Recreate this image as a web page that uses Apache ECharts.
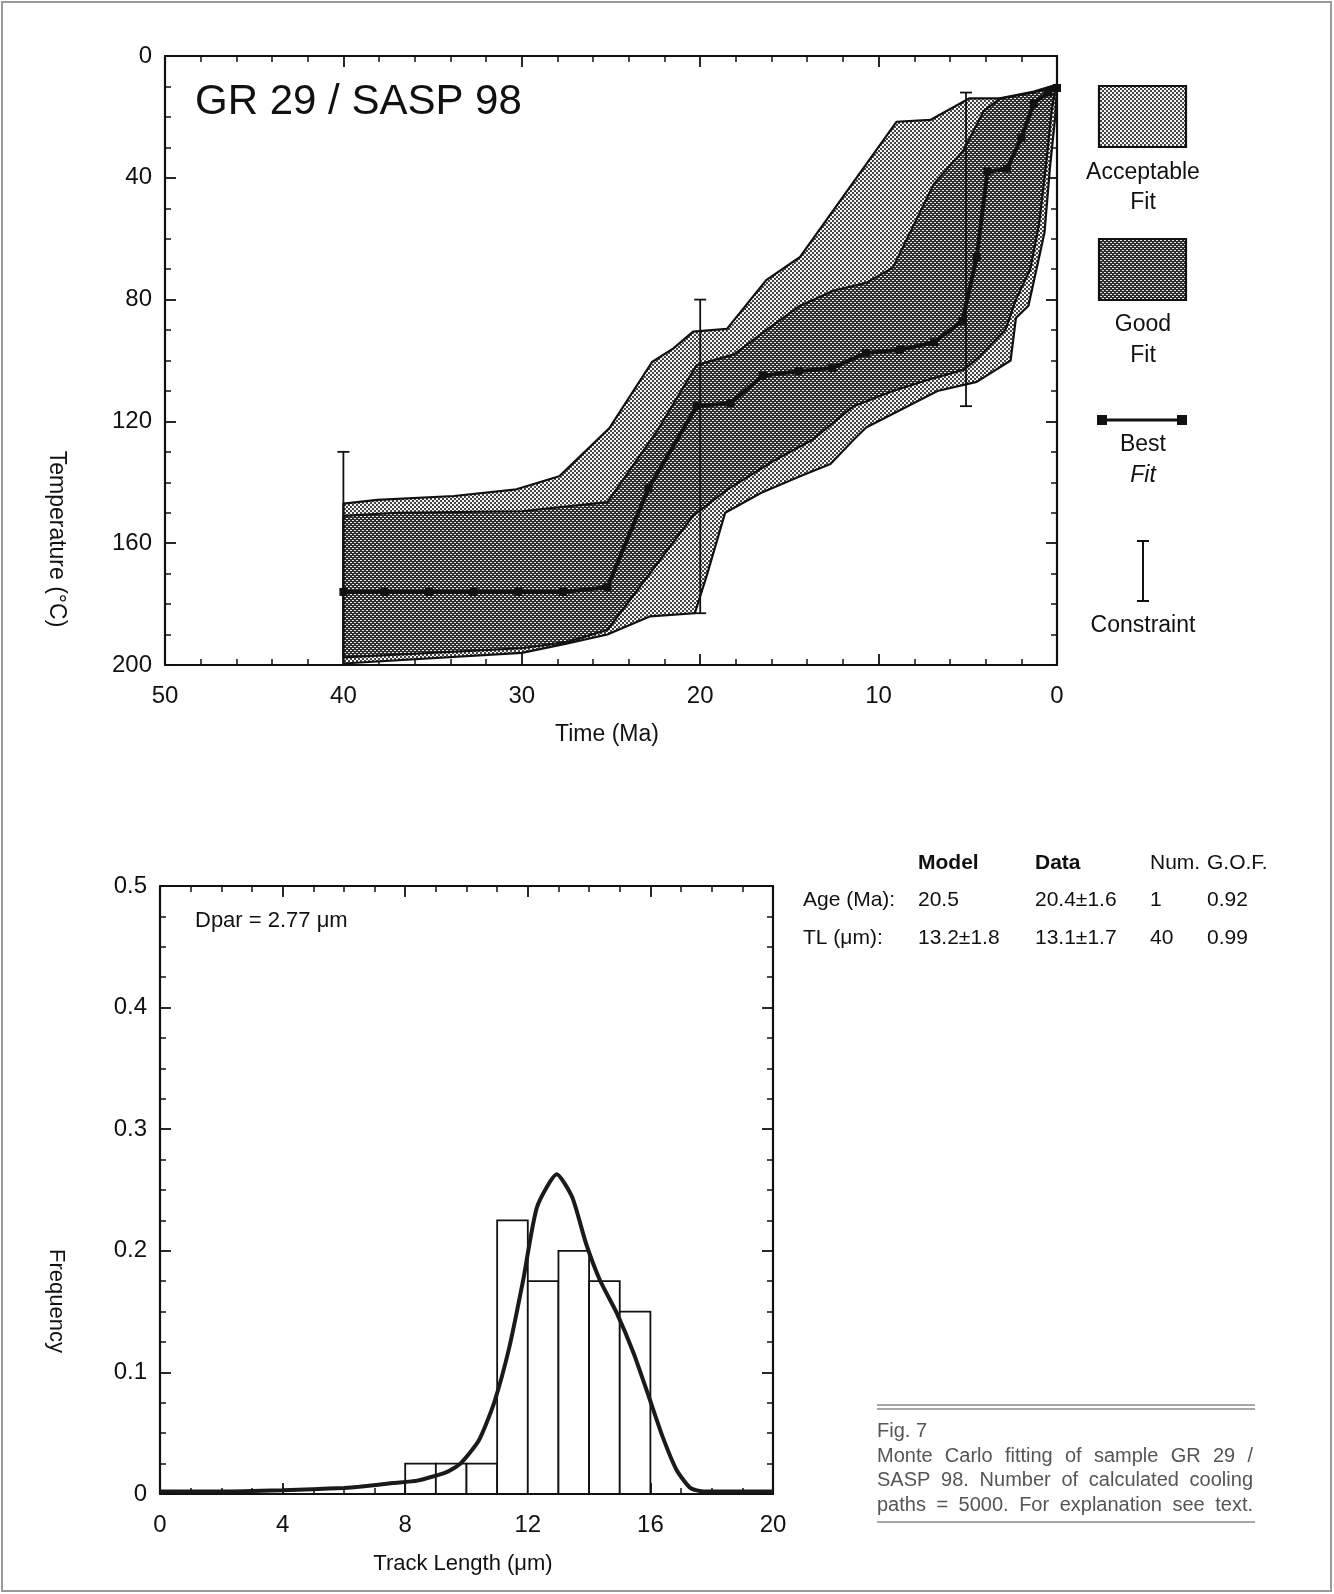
<!DOCTYPE html>
<html>
<head>
<meta charset="utf-8">
<title>GR 29 / SASP 98 - Monte Carlo fitting</title>
<script src="https://cdn.jsdelivr.net/npm/echarts@6.0.0/dist/echarts.min.js"></script>
<style>
  html, body { margin: 0; padding: 0; background: #fff; }
  #chart { width: 1334px; height: 1594px; }
</style>
</head>
<body>
<div id="chart"></div>
<script>
// ---- top panel: time-temperature paths, [age (Ma), temperature (°C)] ----
// acceptable fit envelope, cool side then hot side
const acceptTop = [
  [40, 147], [38.1, 145.8], [33.8, 144.5], [30.3, 142.3], [27.9, 138], [25.1, 122.3],
  [22.7, 100.5], [21.5, 96], [20.4, 90.5], [18.5, 89.6], [16.3, 73.6], [14.4, 66],
  [9.0, 21.6], [7.1, 21], [4.9, 13.9], [3.2, 13.9], [1.3, 11.7], [0.1, 9.5], [0, 9.5]
]
const acceptBottom = [
  [40, 199.5], [30, 196], [27.5, 193], [25.2, 190], [22.8, 184], [20.3, 183],
  [19.6, 170], [18.6, 150], [16.6, 143.5], [14.4, 138], [12.7, 134], [11.4, 126],
  [10.7, 122], [6.7, 110], [4.5, 107], [2.6, 100], [2.3, 86], [1.6, 82], [1.0, 66],
  [0.7, 58], [0.4, 37], [0.1, 20], [0, 10]
]
// good fit envelope
const goodTop = [
  [40, 151], [37, 150], [30, 149.5], [25.2, 146.5], [22.4, 123], [20.2, 101.5],
  [18.1, 98], [16.3, 90], [14.4, 82], [12.5, 77], [10.7, 74.5], [9.2, 69.5],
  [6.9, 42], [5.25, 31], [4.1, 18], [3.2, 14], [1.3, 12], [0.1, 10]
]
const goodBottom = [
  [40, 197.5], [30, 194.5], [27.5, 192.5], [25.2, 188.5], [20.4, 151], [18.5, 142.5],
  [15.9, 133], [13.7, 126], [11.4, 115], [9.2, 110], [7.3, 106.5], [5.2, 103],
  [4.4, 99], [2.9, 90], [2.3, 80], [1.5, 70], [1.0, 55], [0.6, 35], [0.3, 18], [0.1, 11]
]
// best fit path
const bestFit = [
  [40, 176], [37.7, 176], [35.2, 176], [32.7, 176], [30.2, 176], [27.7, 176],
  [25.2, 174.5], [22.9, 142], [20.2, 115], [18.3, 114], [16.5, 105], [14.5, 103.5],
  [12.6, 102.5], [10.7, 97.5], [8.8, 96.5], [6.9, 94], [5.3, 87], [4.5, 66],
  [3.9, 38], [2.8, 37], [2.0, 27], [1.3, 15.5], [0.5, 12], [0, 10.5]
]
// constraint boxes
const constraintAge = [40, 20, 5.1]
const constraintMin = [130, 80, 12]
const constraintMax = [200, 183, 115]

// ---- bottom panel: track length distribution ----
const binStart = [8, 9, 10, 11, 12, 13, 14, 15]
const binFreq = [0.025, 0.025, 0.025, 0.225, 0.175, 0.2, 0.175, 0.15]
const binWidth = 1
const pdfLength = [0, 2, 4, 5, 6, 6.5, 7.6, 8.4, 9.35, 9.8, 10.4, 10.9, 11.4, 11.85, 12.3,
  12.95, 13.45, 13.9, 14.35, 14.9, 15.45, 15.95, 16.4, 16.85, 17.3, 17.75, 20]
const pdfFreq = [0.002, 0.002, 0.003, 0.004, 0.005, 0.006, 0.009, 0.011, 0.018, 0.025, 0.044,
  0.075, 0.121, 0.176, 0.236, 0.263, 0.244, 0.206, 0.176, 0.149, 0.116, 0.08, 0.047, 0.02,
  0.005, 0.002, 0.002]

// ---- table / caption text ----
const tableHead = ['Model', 'Data', 'Num.', 'G.O.F.']
const tableRows = [
  ['Age (Ma):', '20.5', '20.4±1.6', '1', '0.92'],
  ['TL (μm):', '13.2±1.8', '13.1±1.7', '40', '0.99']
]
const captionLines = [
  'Monte Carlo fitting of sample GR 29 /',
  'SASP 98. Number of calculated cooling',
  'paths = 5000. For explanation see text.'
]

const FONT = '"Liberation Sans", Arial, Helvetica, sans-serif'
const INK = '#111111'

// stipple patterns for the envelopes
function makeTile(bg, dot, cells) {
  const c = document.createElement('canvas')
  c.width = 4
  c.height = 4
  const ctx = c.getContext('2d')
  ctx.fillStyle = bg
  ctx.fillRect(0, 0, 4, 4)
  ctx.fillStyle = dot
  cells.forEach(([x, y, w, h]) => ctx.fillRect(x, y, w, h))
  return { image: c, repeat: 'repeat' }
}
const acceptFill = makeTile('#f4f4f4', '#444444', [[0, 0, 2, 2], [2, 2, 2, 2]])
const goodFill = makeTile('#2e2e2e', '#e8e8e8', [[0, 0, 2, 1], [2, 2, 2, 1]])

const acceptPoly = acceptTop.concat(acceptBottom.slice().reverse())
const goodPoly = goodTop.concat(goodBottom.slice().reverse())

function polygonSeries(points, fill, z) {
  return {
    type: 'custom',
    xAxisIndex: 0,
    yAxisIndex: 0,
    z: z,
    silent: true,
    data: [0],
    renderItem: (params, api) => ({
      type: 'polygon',
      shape: { points: points.map(p => api.coord(p)) },
      style: { fill: fill, stroke: INK, lineWidth: 2.2, lineJoin: 'round' }
    })
  }
}

function axisX(grid, pos, min, max, interval, split, showLabel, inverse) {
  return {
    type: 'value',
    gridIndex: grid,
    position: pos,
    min: min,
    max: max,
    interval: interval,
    inverse: inverse,
    axisLine: { show: true, onZero: false, lineStyle: { color: INK, width: 2.2 } },
    axisTick: { show: true, inside: true, length: 11, lineStyle: { color: INK, width: 1.8 } },
    minorTick: { show: true, splitNumber: split, length: 6, lineStyle: { color: INK, width: 1.5 } },
    axisLabel: { show: showLabel, fontSize: 24, color: INK, fontFamily: FONT, margin: 19 },
    splitLine: { show: false },
    minorSplitLine: { show: false }
  }
}

function axisY(grid, pos, min, max, interval, split, showLabel, inverse, formatter) {
  return {
    type: 'value',
    gridIndex: grid,
    position: pos,
    min: min,
    max: max,
    interval: interval,
    inverse: inverse,
    axisLine: { show: true, onZero: false, lineStyle: { color: INK, width: 2.2 } },
    axisTick: { show: true, inside: true, length: 11, lineStyle: { color: INK, width: 1.8 } },
    minorTick: { show: true, splitNumber: split, length: 6, lineStyle: { color: INK, width: 1.5 } },
    axisLabel: { show: showLabel, fontSize: 24, color: INK, fontFamily: FONT, margin: 13, formatter: formatter },
    splitLine: { show: false },
    minorSplitLine: { show: false }
  }
}

// justified caption lines, words spread across the column
const measure = document.createElement('canvas').getContext('2d')
function justify(line, x0, x1, y, font, fill) {
  const words = line.split(' ')
  measure.font = font
  const widths = words.map(w => measure.measureText(w).width)
  const total = widths.reduce((a, b) => a + b, 0)
  const gap = words.length > 1 ? (x1 - x0 - total) / (words.length - 1) : 0
  let x = x0
  return words.map((w, i) => {
    const el = { type: 'text', x: x, y: y, style: { text: w, font: font, fill: fill, textVerticalAlign: 'middle' } }
    x += widths[i] + gap
    return el
  })
}

function label(text, x, y, size, opts) {
  const o = opts || {}
  return {
    type: 'text',
    x: x,
    y: y,
    rotation: o.rotation || 0,
    style: {
      text: text,
      font: (o.weight || 'normal') + ' ' + size + 'px ' + FONT,
      fill: o.fill || INK,
      textAlign: o.align || 'center',
      textVerticalAlign: 'middle'
    }
  }
}

const graphics = []
// page frame
graphics.push({ type: 'rect', shape: { x: 2, y: 2, width: 1329, height: 1589 }, style: { fill: null, stroke: '#9a9a9a', lineWidth: 2 } })
// titles
graphics.push(label('GR 29 / SASP 98', 195, 102, 42, { align: 'left' }))
graphics.push(label('Temperature (°C)', 56, 539, 23, { rotation: -Math.PI / 2 }))
graphics.push(label('Time (Ma)', 607, 735, 23))
graphics.push(label('Frequency', 56, 1301, 22, { rotation: -Math.PI / 2 }))
graphics.push(label('Track Length (μm)', 463, 1564, 22))
graphics.push(label('Dpar = 2.77 μm', 195, 921, 22, { align: 'left' }))

// legend of the top panel
const lx = 1143
graphics.push({ type: 'rect', shape: { x: 1099, y: 86, width: 87, height: 61 }, style: { fill: acceptFill, stroke: INK, lineWidth: 2.2 } })
graphics.push(label('Acceptable', lx, 173, 23))
graphics.push(label('Fit', lx, 203, 23))
graphics.push({ type: 'rect', shape: { x: 1099, y: 239, width: 87, height: 61 }, style: { fill: goodFill, stroke: INK, lineWidth: 2.2 } })
graphics.push(label('Good', lx, 325, 23))
graphics.push(label('Fit', lx, 356, 23))
graphics.push({ type: 'line', shape: { x1: 1102, y1: 420, x2: 1182, y2: 420 }, style: { stroke: INK, lineWidth: 3 } })
graphics.push({ type: 'rect', shape: { x: 1097, y: 415, width: 10, height: 10 }, style: { fill: INK } })
graphics.push({ type: 'rect', shape: { x: 1177, y: 415, width: 10, height: 10 }, style: { fill: INK } })
graphics.push(label('Best', lx, 445, 23))
graphics.push(label('Fit', lx, 476, 23, { weight: 'italic' }))
graphics.push({ type: 'line', shape: { x1: lx, y1: 541, x2: lx, y2: 601 }, style: { stroke: INK, lineWidth: 2 } })
graphics.push({ type: 'line', shape: { x1: lx - 6, y1: 541, x2: lx + 6, y2: 541 }, style: { stroke: INK, lineWidth: 2 } })
graphics.push({ type: 'line', shape: { x1: lx - 6, y1: 601, x2: lx + 6, y2: 601 }, style: { stroke: INK, lineWidth: 2 } })
graphics.push(label('Constraint', lx, 626, 23))

// statistics table
const colX = [918, 1035, 1150, 1207]
tableHead.forEach((h, i) => graphics.push(label(h, colX[i], 863, 21, { align: 'left', weight: i < 2 ? 'bold' : 'normal' })))
tableRows.forEach((row, r) => {
  const y = 900 + r * 38
  graphics.push(label(row[0], 803, y, 21, { align: 'left' }))
  row.slice(1).forEach((v, i) => graphics.push(label(v, colX[i], y, 21, { align: 'left' })))
})

// figure caption
const capFont = '20px ' + FONT
graphics.push({ type: 'line', shape: { x1: 877, y1: 1405, x2: 1255, y2: 1405 }, style: { stroke: '#8a8a8a', lineWidth: 1.3 } })
graphics.push({ type: 'line', shape: { x1: 877, y1: 1409, x2: 1255, y2: 1409 }, style: { stroke: '#8a8a8a', lineWidth: 1.3 } })
graphics.push({ type: 'text', x: 877, y: 1431, style: { text: 'Fig. 7', font: capFont, fill: '#555', textVerticalAlign: 'middle' } })
captionLines.forEach((ln, i) => {
  justify(ln, 877, 1253, 1456 + i * 24.5, capFont, '#555').forEach(el => graphics.push(el))
})
graphics.push({ type: 'line', shape: { x1: 877, y1: 1522, x2: 1255, y2: 1522 }, style: { stroke: '#8a8a8a', lineWidth: 1.3 } })

const chart = echarts.init(document.getElementById('chart'), null, { renderer: 'canvas' })

const option = {
  backgroundColor: '#ffffff',
  animation: false,
  grid: [
    { left: 165, top: 56, width: 892, height: 609 },
    { left: 160, top: 886, width: 613, height: 608 }
  ],
  xAxis: [
    axisX(0, 'bottom', 0, 50, 10, 5, true, true),
    axisX(0, 'top', 0, 50, 10, 5, false, true),
    axisX(1, 'bottom', 0, 20, 4, 4, true, false),
    axisX(1, 'top', 0, 20, 4, 4, false, false)
  ],
  yAxis: [
    axisY(0, 'left', 0, 200, 40, 4, true, true),
    axisY(0, 'right', 0, 200, 40, 4, false, true),
    axisY(1, 'left', 0, 0.5, 0.1, 4, true, false, v => (v === 0 ? '0' : v.toFixed(1))),
    axisY(1, 'right', 0, 0.5, 0.1, 4, false, false)
  ],
  series: [
    polygonSeries(acceptPoly, acceptFill, 1),
    polygonSeries(goodPoly, goodFill, 2),
    {
      type: 'line',
      xAxisIndex: 0,
      yAxisIndex: 0,
      z: 5,
      data: bestFit,
      symbol: 'rect',
      symbolSize: 8,
      showSymbol: true,
      lineStyle: { color: '#111', width: 4 },
      itemStyle: { color: '#111' }
    },
    {
      type: 'custom',
      xAxisIndex: 0,
      yAxisIndex: 0,
      z: 6,
      data: constraintAge.map((a, i) => [a, constraintMin[i], constraintMax[i]]),
      renderItem: (params, api) => {
        const top = api.coord([api.value(0), api.value(1)])
        const bot = api.coord([api.value(0), api.value(2)])
        const st = { stroke: INK, lineWidth: 1.8 }
        return {
          type: 'group',
          children: [
            { type: 'line', shape: { x1: top[0], y1: top[1], x2: bot[0], y2: bot[1] }, style: st },
            { type: 'line', shape: { x1: top[0] - 6, y1: top[1], x2: top[0] + 6, y2: top[1] }, style: st },
            { type: 'line', shape: { x1: bot[0] - 6, y1: bot[1], x2: bot[0] + 6, y2: bot[1] }, style: st }
          ]
        }
      }
    },
    {
      type: 'custom',
      xAxisIndex: 2,
      yAxisIndex: 2,
      z: 3,
      data: binStart.map((s, i) => [s, binFreq[i]]),
      renderItem: (params, api) => {
        const p0 = api.coord([api.value(0), api.value(1)])
        const p1 = api.coord([api.value(0) + binWidth, 0])
        return {
          type: 'rect',
          shape: { x: p0[0], y: p0[1], width: p1[0] - p0[0], height: p1[1] - p0[1] },
          style: { fill: '#fff', stroke: INK, lineWidth: 1.8 }
        }
      }
    },
    {
      type: 'line',
      xAxisIndex: 2,
      yAxisIndex: 2,
      z: 5,
      data: pdfLength.map((l, i) => [l, pdfFreq[i]]),
      showSymbol: false,
      smooth: 0.2,
      lineStyle: { color: '#1a1a1a', width: 4 }
    }
  ],
  graphic: graphics
}

chart.setOption(option)
</script>
</body>
</html>
